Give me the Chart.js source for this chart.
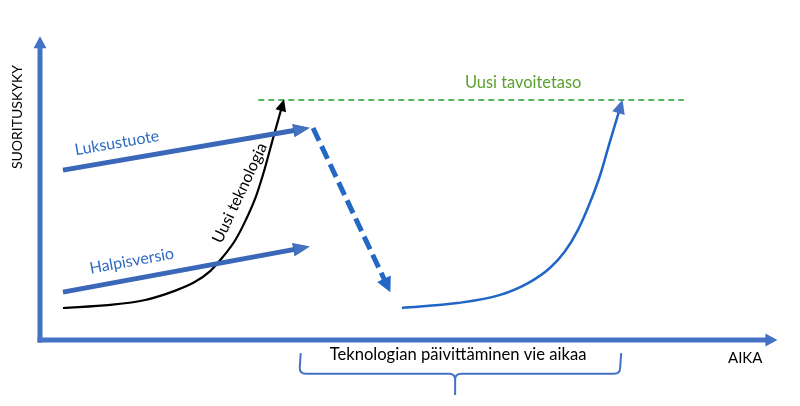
<!DOCTYPE html>
<html>
<head>
<meta charset="utf-8">
<script src="https://cdn.jsdelivr.net/npm/chart.js@4"></script>
<style>
  html, body { margin: 0; padding: 0; background: #fff; }
  canvas { display: block; }
</style>
</head>
<body>
<canvas id="kaavio" width="800" height="406"></canvas>
<script>
// arvot: x = aika (0..100), y = suorituskyky (0..100)
const akseliX = [-0.34, 99];
const akseliXy = [0, 0];
const akseliY = [0, 0];
const akseliYy = [-0.8, 98];

const luksusX = [3.1, 35.5];
const luksusY = [55.7, 69.2];

const halpaX = [3.1, 35.5];
const halpaY = [15.7, 30.2];

const uusiTekX = [3.1, 9.5, 14.2, 18.2, 20.9, 23.0, 24.7, 26.4, 27.8, 29.2, 30.4, 31.5, 32.8];
const uusiTekY = [10.5, 11.5, 13.1, 16.1, 19.0, 22.6, 27.2, 32.8, 39.3, 47.2, 56.4, 66.2, 77.4];

const tavoiteX = [29.5, 87.0];
const tavoiteY = [78.7, 78.7];

const laskuX = [36.9, 47.0];
const laskuY = [69.5, 17.4];

const nousuX = [48.9, 56.4, 62.2, 66.2, 68.9, 70.9, 72.7, 74.3, 75.7, 77.0, 78.5];
const nousuY = [10.5, 12.1, 14.8, 19.0, 23.6, 28.9, 36.1, 44.9, 54.1, 64.9, 77.0];

const pisteet = (xs, ys) => xs.map((x, i) => ({ x: x, y: ys[i] }));

const SININEN = '#4472C4';
const TUMMA = '#3A67B8';

const nuolet = {
    id: 'nuolet',
    afterDatasetsDraw(chart) {
        const ctx = chart.ctx;
        chart.data.datasets.forEach((ds, i) => {
            if (!ds.nuoli) return;
            const pts = chart.getDatasetMeta(i).data;
            const a = pts[pts.length - 2], b = pts[pts.length - 1];
            const kulma = Math.atan2(b.y - a.y, b.x - a.x);
            const p = ds.nuoli.pituus, l = ds.nuoli.leveys;
            ctx.save();
            ctx.translate(b.x, b.y);
            ctx.rotate(kulma);
            ctx.beginPath();
            ctx.moveTo(p * 0.4, 0);
            ctx.lineTo(-p * 0.6, -l / 2);
            ctx.lineTo(-p * 0.6, l / 2);
            ctx.closePath();
            ctx.fillStyle = ds.nuoli.vari;
            ctx.fill();
            if (ds.nuoli.reuna) {
                ctx.strokeStyle = ds.nuoli.reuna;
                ctx.lineWidth = 1;
                ctx.stroke();
            }
            ctx.restore();
        });
    }
};

const tekstit = [
    { teksti: 'SUORITUSKYKY', x: -3.0, y: 73.1, kulma: -90, vari: '#000', koko: 14 },
    { teksti: 'AIKA', x: 95.3, y: -5.9, kulma: 0, vari: '#000', koko: 15 },
    { teksti: 'Teknologian päivittäminen vie aikaa', x: 56.5, y: -4.9, kulma: 0, vari: '#000', koko: 16.6 },
    { teksti: 'Uusi tavoitetaso', x: 65.3, y: 84.3, kulma: 0, vari: '#5BA02E', koko: 16.4 },
    { teksti: 'Luksustuote', x: 10.4, y: 64.6, kulma: -9.7, vari: '#2F6BC4', koko: 16 },
    { teksti: 'Halpisversio', x: 12.4, y: 25.9, kulma: -10.4, vari: '#2F6BC4', koko: 16 },
    { teksti: 'Uusi teknologia', x: 27.0, y: 48.2, kulma: -65, vari: '#000', koko: 16 }
];

const sulku = { alku: 35.1, keski: 56.1, loppu: 78.4, yla: -4.3, vaaka: -11.1, ala: -18.0 };

const merkinnat = {
    id: 'merkinnat',
    afterDraw(chart) {
        const ctx = chart.ctx;
        const sx = chart.scales.x, sy = chart.scales.y;
        tekstit.forEach(t => {
            ctx.save();
            ctx.translate(sx.getPixelForValue(t.x), sy.getPixelForValue(t.y));
            ctx.rotate(t.kulma * Math.PI / 180);
            ctx.font = t.koko + 'px Lato';
            ctx.fillStyle = t.vari;
            ctx.textAlign = 'center';
            ctx.textBaseline = 'middle';
            ctx.fillText(t.teksti, 0, 0);
            ctx.restore();
        });
        // aaltosulku aika-akselin alla
        const L = sx.getPixelForValue(sulku.alku), C = sx.getPixelForValue(sulku.keski),
              R = sx.getPixelForValue(sulku.loppu);
        const T = sy.getPixelForValue(sulku.yla), M = sy.getPixelForValue(sulku.vaaka),
              B = sy.getPixelForValue(sulku.ala), r = 6;
        ctx.save();
        ctx.strokeStyle = SININEN;
        ctx.lineWidth = 2;
        ctx.beginPath();
        ctx.moveTo(L + 1, T);
        ctx.lineTo(L, M - r);
        ctx.quadraticCurveTo(L, M, L + r, M);
        ctx.lineTo(C - r, M);
        ctx.quadraticCurveTo(C, M, C, M + r);
        ctx.lineTo(C, B);
        ctx.moveTo(C, M + r);
        ctx.quadraticCurveTo(C, M, C + r, M);
        ctx.lineTo(R - r, M);
        ctx.quadraticCurveTo(R, M, R, M - r);
        ctx.lineTo(R + 1, T);
        ctx.stroke();
        ctx.restore();
    }
};

new Chart(document.getElementById('kaavio'), {
    type: 'scatter',
    data: {
        datasets: [
            {
                data: pisteet(akseliX, akseliXy),
                showLine: true, borderColor: SININEN, borderWidth: 5,
                nuoli: { pituus: 12, leveys: 13, vari: SININEN }
            },
            {
                data: pisteet(akseliY, akseliYy),
                showLine: true, borderColor: SININEN, borderWidth: 5,
                nuoli: { pituus: 12, leveys: 13, vari: SININEN }
            },
            {
                data: pisteet(tavoiteX, tavoiteY),
                showLine: true, borderColor: '#1E9E28', borderWidth: 1.6, borderDash: [6, 4]
            },
            {
                data: pisteet(luksusX, luksusY),
                showLine: true, borderColor: TUMMA, borderWidth: 5,
                nuoli: { pituus: 15, leveys: 12, vari: SININEN, reuna: TUMMA }
            },
            {
                data: pisteet(luksusX, luksusY),
                showLine: true, borderColor: '#7A9FE0', borderWidth: 1.4
            },
            {
                data: pisteet(halpaX, halpaY),
                showLine: true, borderColor: TUMMA, borderWidth: 5,
                nuoli: { pituus: 15, leveys: 12, vari: SININEN, reuna: TUMMA }
            },
            {
                data: pisteet(halpaX, halpaY),
                showLine: true, borderColor: '#7A9FE0', borderWidth: 1.4
            },
            {
                data: pisteet(uusiTekX, uusiTekY),
                showLine: true, borderColor: '#000', borderWidth: 2.2,
                cubicInterpolationMode: 'monotone',
                nuoli: { pituus: 12, leveys: 11, vari: '#000' }
            },
            {
                data: pisteet(laskuX, laskuY),
                showLine: true, borderColor: '#2268C4', borderWidth: 5, borderDash: [14, 6],
                nuoli: { pituus: 15, leveys: 15, vari: '#2268C4' }
            },
            {
                data: pisteet(nousuX, nousuY),
                showLine: true, borderColor: '#1F66C6', borderWidth: 2.5,
                cubicInterpolationMode: 'monotone',
                nuoli: { pituus: 14, leveys: 13, vari: SININEN }
            }
        ]
    },
    options: {
        responsive: false,
        animation: false,
        clip: false,
        elements: { point: { radius: 0, hoverRadius: 0 } },
        layout: { padding: { left: 40, right: 20, top: 35, bottom: 66 } },
        scales: {
            x: { type: 'linear', min: 0, max: 100, display: false },
            y: { type: 'linear', min: 0, max: 100, display: false }
        },
        plugins: {
            legend: { display: false },
            tooltip: { enabled: false }
        }
    },
    plugins: [nuolet, merkinnat]
});
</script>
</body>
</html>
